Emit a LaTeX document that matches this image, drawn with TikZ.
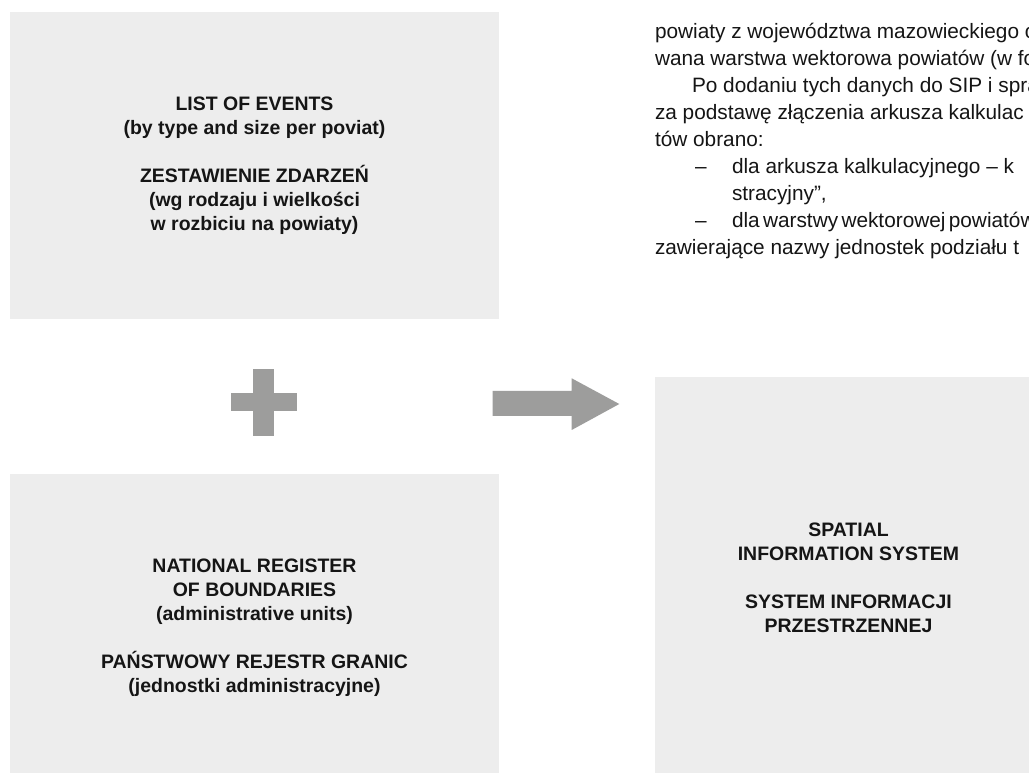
\documentclass[tikz,border=0pt]{standalone}
\usepackage{fontspec}
\setmainfont{Liberation Sans}
\definecolor{boxgray}{HTML}{EDEDED}
\definecolor{symgray}{HTML}{9D9D9C}
\definecolor{ink}{HTML}{151515}
\tikzset{
  box/.style={fill=boxgray, draw=none, inner sep=0pt, outer sep=0pt, anchor=north west,
    align=center, text=ink, font=\fontsize{14.6}{18}\selectfont\bfseries},
  bodytext/.style={anchor=base west, inner sep=0pt, outer sep=0pt, text=ink,
    font=\fontsize{15.6}{18}\selectfont},
  symbol/.style={fill=symgray, draw=none}
}
\begin{document}
\begin{tikzpicture}[x=0.75pt,y=-0.75pt]
\useasboundingbox (0,0) rectangle (1029,773);
\clip (0,0) rectangle (1029,773);
\fill[white] (0,0) rectangle (1029,773);

% boxes
\node[box, minimum width=366.75pt, minimum height=230.25pt] (events) at (10,12)
  {LIST OF EVENTS\\(by type and size per poviat)\\[18pt]ZESTAWIENIE ZDARZEŃ\\(wg rodzaju i wielkości\\w rozbiciu na powiaty)};
\node[box, minimum width=366.75pt, minimum height=230.25pt] (register) at (10,474)
  {NATIONAL REGISTER\\OF BOUNDARIES\\(administrative units)\\[18pt]PAŃSTWOWY REJESTR GRANIC\\(jednostki administracyjne)};
\node[box, minimum width=290.25pt, minimum height=301.5pt] (sip) at (655,377)
  {SPATIAL\\INFORMATION SYSTEM\\[18pt]SYSTEM INFORMACJI\\PRZESTRZENNEJ};

% plus sign
\fill[symbol] (253.3,369) rectangle (274,435.7);
\fill[symbol] (231,393) rectangle (296.7,410.7);

% block arrow
\coordinate (arrtail) at (492.7,403.5);
\coordinate (arrtip) at (619.3,404);
\fill[symbol] (arrtail) ++(0,-12.5) -- ++(79,0) -- ++(0,-12.7) -- (arrtip)
  -- (571.7,430) -- (571.7,416) -- (492.7,416) -- cycle;

% body text (cropped page text)
\node[bodytext] (l1) at (655,38.5) {powiaty z województwa mazowieckiego o};
\node[bodytext] (l2) at (655,65.5) {wana warstwa wektorowa powiatów (w fo};
\node[bodytext] (l3) at (692,92.5) {Po dodaniu tych danych do SIP i spra};
\node[bodytext] (l4) at (655,119.5) {za podstawę złączenia arkusza kalkulac};
\node[bodytext] (l5) at (655,146.5) {tów obrano:};
\node[bodytext] (d1) at (695,173.5) {–};
\node[bodytext] (l6) at (732,173.5) {dla arkusza kalkulacyjnego – k};
\node[bodytext] (l7) at (732,200.5) {stracyjny”,};
\node[bodytext] (d2) at (695,227.5) {–};
\node[bodytext] (l8) at (732,227.5) {\spaceskip=0.16em dla warstwy wektorowej powiatów};
\node[bodytext] (l9) at (655,254.5) {zawierające nazwy jednostek podziału t};
\end{tikzpicture}
\end{document}
